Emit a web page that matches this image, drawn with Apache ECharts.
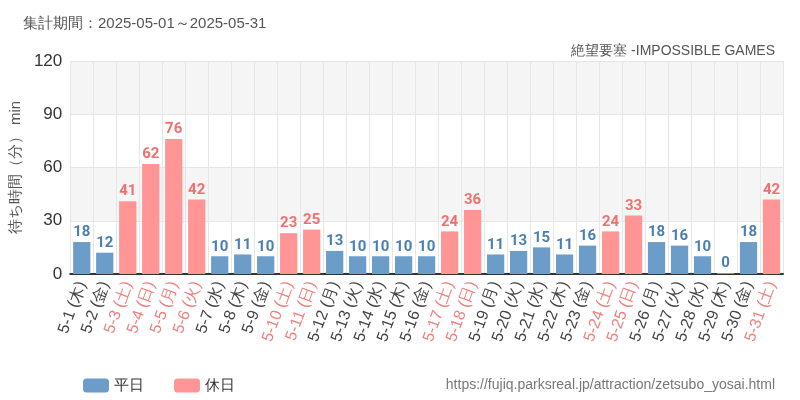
<!DOCTYPE html><html><head><meta charset="utf-8">
<script src="https://cdn.jsdelivr.net/npm/echarts@6/dist/echarts.min.js"></script>
<style>html,body{margin:0;padding:0;background:#fff}#c{width:800px;height:400px}</style></head><body><div id="c"></div><script>
const categories=['5-1 (木)','5-2 (金)','5-3 (土)','5-4 (日)','5-5 (月)','5-6 (火)','5-7 (水)','5-8 (木)','5-9 (金)','5-10 (土)','5-11 (日)','5-12 (月)','5-13 (火)','5-14 (水)','5-15 (木)','5-16 (金)','5-17 (土)','5-18 (日)','5-19 (月)','5-20 (火)','5-21 (水)','5-22 (木)','5-23 (金)','5-24 (土)','5-25 (日)','5-26 (月)','5-27 (火)','5-28 (水)','5-29 (木)','5-30 (金)','5-31 (土)'];
const values=[18,12,41,62,76,42,10,11,10,23,25,13,10,10,10,10,24,36,11,13,15,11,16,24,33,18,16,10,0,18,42];
const holidays=['5-3 (土)','5-4 (日)','5-5 (月)','5-6 (火)','5-10 (土)','5-11 (日)','5-17 (土)','5-18 (日)','5-24 (土)','5-25 (日)','5-31 (土)'];
const yTicks=[0,30,60,90,120];
const isH=c=>holidays.includes(c);
const weekday=values.map((v,i)=>isH(categories[i])?null:v);
const holiday=values.map((v,i)=>isH(categories[i])?v:null);
const lbl=color=>({show:true,position:'top',color,fontSize:15,fontWeight:'bold',fontFamily:'Roboto',distance:2});
const ch=echarts.init(document.getElementById('c'));
ch.setOption({
 animation:false,
 title:[{text:'集計期間：2025-05-01～2025-05-31',left:18,top:11,textStyle:{fontSize:15,fontWeight:'normal',color:'#555'}},
        {text:'絶望要塞 -IMPOSSIBLE GAMES',right:20,top:39,textStyle:{fontSize:14,fontWeight:'normal',color:'#555'}},
        {text:'https://fujiq.parksreal.jp/attraction/zetsubo_yosai.html',right:20,top:373,textStyle:{fontSize:14,fontWeight:'normal',color:'#777'}}],
 legend:{left:78,top:373,itemWidth:26,itemHeight:14,itemGap:30,textStyle:{fontSize:15,color:'#333'},data:['平日','休日']},
 grid:{left:70,right:17,top:61,bottom:126},
 xAxis:{type:'category',data:categories,axisTick:{show:false},axisLine:{lineStyle:{color:'#333',width:2}},
   splitLine:{show:true,lineStyle:{color:'#e6e6e6'}},
   axisLabel:{interval:0,rotate:70,fontSize:16,margin:8,
     formatter:v=>isH(v)?'{h|'+v+'}':'{w|'+v+'}',
     rich:{h:{color:'#f08080',fontSize:16},w:{color:'#444',fontSize:16}}}},
 yAxis:{type:'value',min:yTicks[0],max:yTicks[yTicks.length-1],interval:30,
   name:'待ち時間（分） min',nameLocation:'middle',nameGap:46,nameTextStyle:{fontSize:15,color:'#555'},
   axisLabel:{fontSize:17,color:'#333'},splitLine:{lineStyle:{color:'#e6e6e6'}},
   splitArea:{show:true,areaStyle:{color:['#ffffff','#f5f5f5']}}},
 series:[
  {name:'平日',type:'bar',data:weekday,barWidth:'75%',barGap:'-100%',barMinHeight:1,itemStyle:{color:'#6b9dc8'},label:lbl('#4a7fb5')},
  {name:'休日',type:'bar',data:holiday,barWidth:'75%',itemStyle:{color:'#ff9595'},label:lbl('#f07070')}
 ]
});
</script></body></html>
